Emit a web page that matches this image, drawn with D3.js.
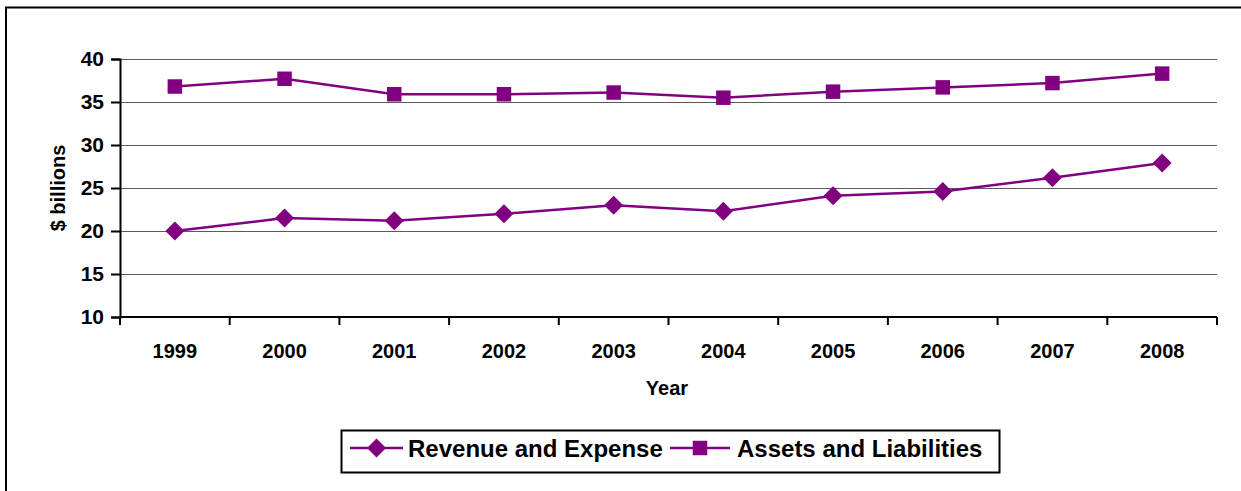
<!DOCTYPE html>
<html>
<head>
<meta charset="utf-8">
<script src="https://cdn.jsdelivr.net/npm/d3@7"></script>
<style>
  html, body { margin: 0; padding: 0; background: #fff; }
  svg { display: block; }
  text { font-family: "Liberation Sans", Arial, sans-serif; font-weight: bold; fill: #000; }
</style>
</head>
<body>
<svg id="chart" width="1241" height="491"></svg>
<script>
// Annual totals, $ billions
const years = ["1999", "2000", "2001", "2002", "2003", "2004", "2005", "2006", "2007", "2008"];
const revenueExpense = [20.0, 21.5, 21.2, 22.0, 23.0, 22.3, 24.1, 24.6, 26.2, 27.9];
const assetsLiabilities = [36.8, 37.7, 35.9, 35.9, 36.1, 35.5, 36.2, 36.7, 37.2, 38.3];
const yTicks = [10, 15, 20, 25, 30, 35, 40];
const seriesNames = ["Revenue and Expense", "Assets and Liabilities"];

const purple = "#800080";
const svg = d3.select("#chart");

// Outer chart frame
svg.append("rect")
  .attr("x", 6).attr("y", 7.5)
  .attr("width", 1260).attr("height", 500)
  .attr("fill", "none").attr("stroke", "#000").attr("stroke-width", 2);

const plot = { left: 120, right: 1217, top: 59, bottom: 317 };

const x = d3.scaleBand().domain(years).range([plot.left, plot.right]);
const y = d3.scaleLinear().domain([10, 40]).range([plot.bottom, plot.top]);

// Horizontal gridlines
svg.append("g")
  .selectAll("line")
  .data(yTicks.filter(t => t > 10))
  .join("line")
  .attr("x1", plot.left).attr("x2", plot.right)
  .attr("y1", d => Math.round(y(d)) + 0.5).attr("y2", d => Math.round(y(d)) + 0.5)
  .attr("stroke", "#5a5a5a").attr("stroke-width", 1);

// Y axis
const yAxis = svg.append("g")
  .attr("transform", `translate(${plot.left},0)`)
  .call(d3.axisLeft(y).tickValues(yTicks).tickSize(9).tickPadding(7).tickFormat(d3.format("d")));
yAxis.select(".domain").attr("stroke", "#000").attr("stroke-width", 2);
yAxis.selectAll(".tick line").attr("stroke", "#000").attr("stroke-width", 2);
yAxis.selectAll(".tick text")
  .attr("font-size", 21).attr("font-family", "Liberation Sans, Arial, sans-serif")
  .attr("font-weight", "bold").attr("fill", "#000");

// X axis: ticks sit between categories
const xAxisG = svg.append("g").attr("transform", `translate(0,${plot.bottom})`);
xAxisG.append("line")
  .attr("x1", plot.left).attr("x2", plot.right)
  .attr("stroke", "#000").attr("stroke-width", 2);
const bounds = years.map(d => x(d)).concat([x(years[years.length - 1]) + x.bandwidth()]);
xAxisG.selectAll("line.tk")
  .data(bounds)
  .join("line")
  .attr("class", "tk")
  .attr("x1", d => d).attr("x2", d => d)
  .attr("y1", 0).attr("y2", 8)
  .attr("stroke", "#000").attr("stroke-width", 2);
xAxisG.selectAll("text")
  .data(years)
  .join("text")
  .attr("x", d => x(d) + x.bandwidth() / 2)
  .attr("y", 41)
  .attr("text-anchor", "middle")
  .attr("font-size", 20)
  .text(d => d);

// Axis titles
svg.append("text")
  .attr("x", 667).attr("y", 395)
  .attr("text-anchor", "middle").attr("font-size", 20)
  .text("Year");
svg.append("text")
  .attr("transform", "translate(65,188) rotate(-90)")
  .attr("text-anchor", "middle").attr("font-size", 20)
  .text("$ billions");

// Series lines and markers
const cx = d => x(d) + x.bandwidth() / 2;
const line = d3.line().x(d => cx(d.year)).y(d => y(d.value));
const toPoints = vals => years.map((yr, i) => ({ year: yr, value: vals[i] }));

const diamond = d3.symbol().type(d3.symbolSquare).size(180);
const square = d3.symbol().type(d3.symbolSquare).size(210);

function drawSeries(vals, marker, rotate) {
  const pts = toPoints(vals);
  svg.append("path")
    .datum(pts)
    .attr("d", line)
    .attr("fill", "none").attr("stroke", purple).attr("stroke-width", 2.5);
  svg.append("g").selectAll("path")
    .data(pts)
    .join("path")
    .attr("d", marker)
    .attr("transform", d => `translate(${cx(d.year)},${y(d.value)}) rotate(${rotate})`)
    .attr("fill", purple);
}
drawSeries(revenueExpense, diamond, 45);
drawSeries(assetsLiabilities, square, 0);

// Legend
const legend = svg.append("g");
legend.append("rect")
  .attr("x", 341.5).attr("y", 430.5).attr("width", 658).attr("height", 42)
  .attr("fill", "#fff").attr("stroke", "#000").attr("stroke-width", 2);
const legendItems = [
  { name: seriesNames[0], x0: 350, x1: 403, marker: diamond, rot: 45, tx: 408 },
  { name: seriesNames[1], x0: 670, x1: 730, marker: square, rot: 0, tx: 737 }
];
legendItems.forEach(it => {
  legend.append("line")
    .attr("x1", it.x0).attr("x2", it.x1).attr("y1", 448).attr("y2", 448)
    .attr("stroke", purple).attr("stroke-width", 2.5);
  legend.append("path")
    .attr("d", it.marker)
    .attr("transform", `translate(${(it.x0 + it.x1) / 2},448) rotate(${it.rot})`)
    .attr("fill", purple);
  legend.append("text")
    .attr("x", it.tx).attr("y", 457)
    .attr("font-size", 24)
    .text(it.name);
});
</script>
</body>
</html>
